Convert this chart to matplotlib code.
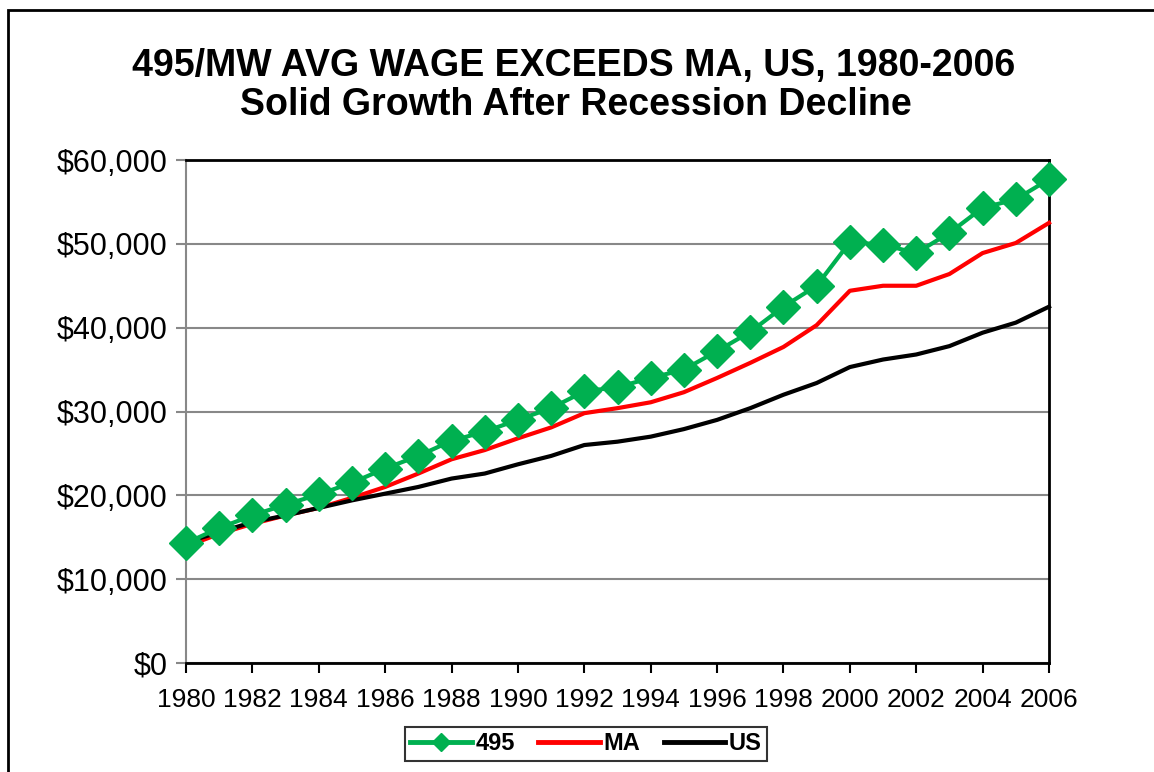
import numpy as np
import matplotlib.pyplot as plt
from matplotlib.patches import Rectangle

years = list(range(1980, 2007))
wage_495 = [14300, 16100, 17600, 18900, 20100, 21500, 23200, 24700, 26500, 27600,
            29000, 30400, 32400, 32900, 34000, 35000, 37200, 39500, 42500, 45000,
            50200, 49900, 48900, 51300, 54300, 55300, 57700]
wage_ma = [13900, 15400, 16600, 17600, 18500, 19700, 21000, 22600, 24300, 25400,
           26800, 28100, 29800, 30400, 31100, 32300, 34000, 35800, 37700, 40300,
           44400, 45000, 45000, 46400, 48900, 50100, 52500]
wage_us = [14400, 15600, 16800, 17600, 18500, 19400, 20200, 21000, 22000, 22600,
           23700, 24700, 26000, 26400, 27000, 27900, 29000, 30400, 32000, 33400,
           35300, 36200, 36800, 37800, 39400, 40600, 42500]

plt.rcParams['font.family'] = ['Liberation Sans', 'DejaVu Sans']

fig = plt.figure(figsize=(11.54, 7.72), dpi=100)
ax = fig.add_axes([186/1154, 1-663/772, (1049-186)/1154, (663-160)/772])

ax.plot(years, wage_495, color='#00b050', lw=3, marker='D', markersize=17, label='495', zorder=4)
ax.plot(years, wage_ma, color='#ff0000', lw=3, label='MA', zorder=3)
ax.plot(years, wage_us, color='black', lw=3, label='US', zorder=3)

ax.set_xlim(1980, 2006)
ax.set_ylim(0, 60000)
ax.set_yticks(np.arange(0, 60001, 10000))
ax.set_yticklabels(['${:,.0f}'.format(v) for v in np.arange(0, 60001, 10000)], fontsize=22)
ax.set_xticks(range(1980, 2007, 2))
ax.tick_params(axis='x', labelsize=19, length=7, width=1.5, color='black', pad=11)
ax.tick_params(axis='y', length=7, width=1.5, color='#888888', pad=6)
ax.yaxis.grid(True, color='#888888', lw=1.5)
ax.set_axisbelow(True)
ax.spines['left'].set_color('#888888')
ax.spines['left'].set_linewidth(1.5)
for s in ['top', 'right', 'bottom']:
    ax.spines[s].set_color('black')
    ax.spines[s].set_linewidth(2)
for l in ax.lines:
    l.set_clip_on(False)

fig.text(574/1154, 1-66/772, '495/MW AVG WAGE EXCEEDS MA, US, 1980-2006',
         ha='center', va='center', fontsize=27, fontweight='bold')
fig.text(576/1154, 1-105/772, 'Solid Growth After Recession Decline',
         ha='center', va='center', fontsize=27, fontweight='bold')

leg = fig.legend(loc='center', bbox_to_anchor=(586/1154, 1-744/772), ncol=3,
                 prop={'weight': 'bold', 'size': 17}, frameon=True, fancybox=False,
                 edgecolor='black', markerscale=0.55, handlelength=2.6,
                 columnspacing=1.0, handletextpad=0.15, borderpad=0.25)
leg.get_frame().set_linewidth(1.5)
for h in leg.get_lines():
    h.set_linewidth(3.5)

fig.patches.append(Rectangle((8/1154, -0.1), 1.2, 1-10/772+0.1, transform=fig.transFigure,
                             fill=False, edgecolor='black', lw=2))

fig.savefig('out.png', dpi=100)
